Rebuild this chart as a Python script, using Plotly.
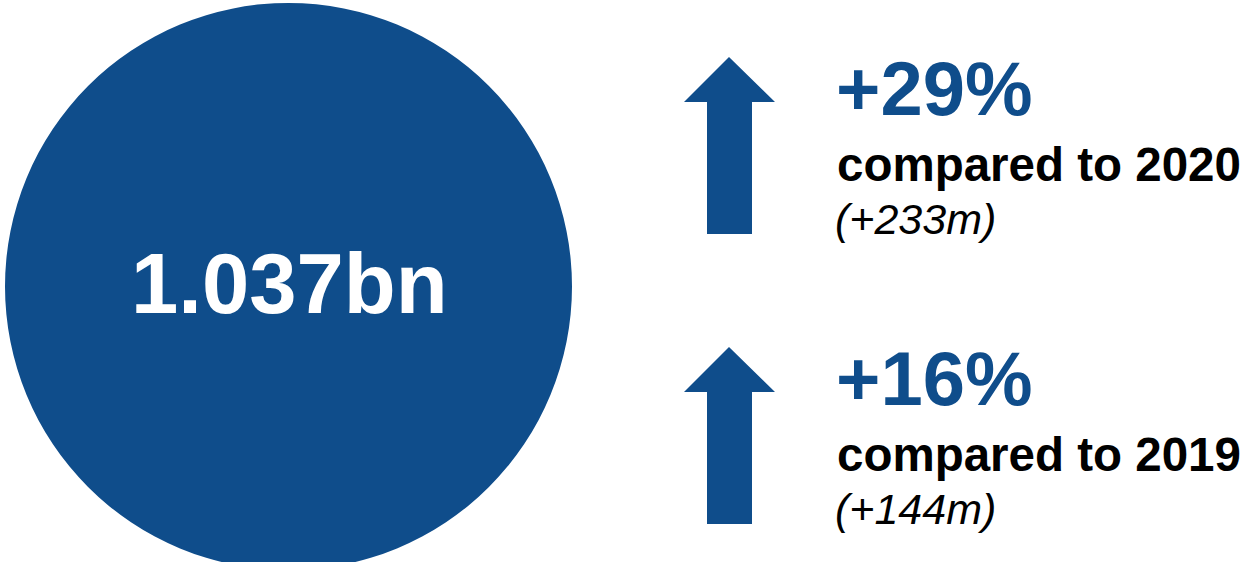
import plotly.graph_objects as go

# ---- data ----
total_label = "1.037bn"
pct_changes = ["+29%", "+16%"]
comparison_years = ["2020", "2019"]
abs_changes = ["+233m", "+144m"]

BLUE = "#0F4D8B"
FONT = "Liberation Sans, Arial, sans-serif"
W, H = 1246, 562

fig = go.Figure()

# big circle
fig.add_shape(type="circle", xref="x", yref="y",
              x0=5, x1=572, y0=3, y1=570,
              fillcolor=BLUE, line=dict(width=0), layer="below")

fig.add_annotation(x=289, y=283, xref="x", yref="y", text=f"<b>{total_label}</b>",
                   showarrow=False, xanchor="center", yanchor="middle",
                   font=dict(family=FONT, size=85, color="white"))

block_offset = 290
for i, (pct, yr, ab) in enumerate(zip(pct_changes, comparison_years, abs_changes)):
    dy = i * block_offset
    # arrow polygon
    ax = [729, 775, 752, 752, 707, 707, 684, 729]
    ay = [57, 102, 102, 234, 234, 102, 102, 57]
    ay = [v + dy for v in ay]
    fig.add_trace(go.Scatter(x=ax, y=ay, mode="lines", fill="toself",
                             fillcolor=BLUE, line=dict(width=0, color=BLUE),
                             hoverinfo="skip", showlegend=False))
    fig.add_annotation(x=834, y=88 + dy, xref="x", yref="y", text=f"<b>{pct}</b>",
                       showarrow=False, xanchor="left", yanchor="middle",
                       font=dict(family=FONT, size=76, color=BLUE))
    fig.add_annotation(x=835, y=164 + dy, xref="x", yref="y",
                       text=f"<b>compared to {yr}</b>",
                       showarrow=False, xanchor="left", yanchor="middle",
                       font=dict(family=FONT, size=47.5, color="black"))
    fig.add_annotation(x=833, y=219 + dy, xref="x", yref="y",
                       text=f"<i>({ab})</i>",
                       showarrow=False, xanchor="left", yanchor="middle",
                       font=dict(family=FONT, size=43, color="black"))

fig.update_xaxes(range=[0, W], visible=False, fixedrange=True)
fig.update_yaxes(range=[H, 0], visible=False, fixedrange=True)
fig.update_layout(width=W, height=H, margin=dict(l=0, r=0, t=0, b=0),
                  paper_bgcolor="white", plot_bgcolor="white", showlegend=False,
                  hovermode=False,
                  modebar=dict(bgcolor="rgba(0,0,0,0)", color="rgba(0,0,0,0)",
                               activecolor="rgba(0,0,0,0)"))

fig.write_html("out.html",
               config={"displayModeBar": False, "staticPlot": True},
               post_script="document.body.style.margin='0';document.body.style.overflow='hidden';")
